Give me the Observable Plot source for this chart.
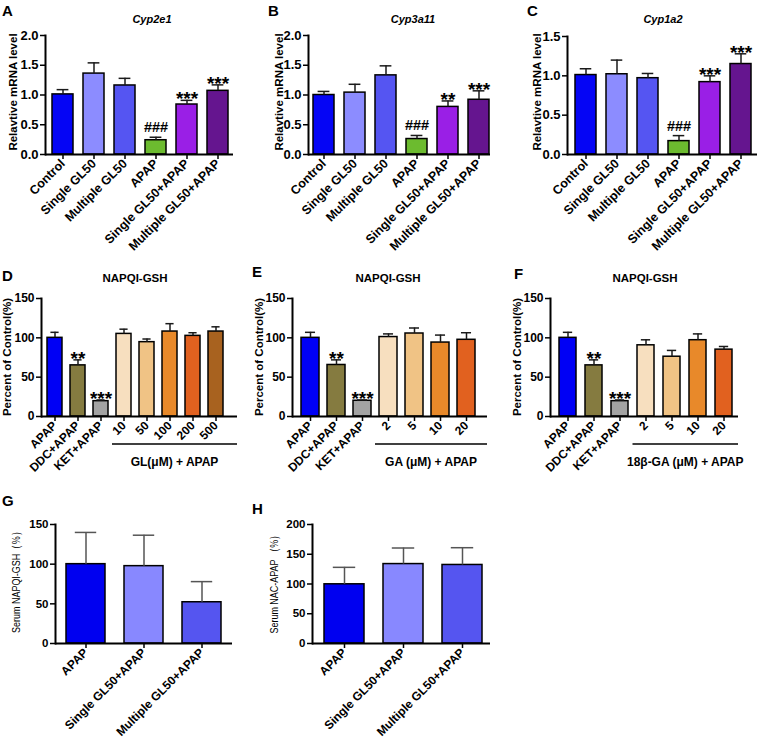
<!DOCTYPE html>
<html><head><meta charset="utf-8">
<script src="https://cdn.jsdelivr.net/npm/d3@7"></script>
<script src="https://cdn.jsdelivr.net/npm/@observablehq/plot@0.6"></script>
<style>
body{margin:0;background:#fff;}
#fig{position:relative;width:757px;height:738px;font-family:"Liberation Sans",Arial,sans-serif;color:#000;overflow:hidden;}
.panel{position:absolute;}
.panel svg{max-width:none;overflow:visible;}
.letter{position:absolute;font-weight:bold;font-size:15px;line-height:15px;}
.title{position:absolute;font-weight:bold;font-size:11.5px;line-height:1;transform:translate(-50%,-50%);white-space:nowrap;}
.ylab{position:absolute;font-size:11.5px;line-height:1;white-space:nowrap;}
</style></head><body><div id="fig"></div>
<script>
// ---------- data ----------
const cypGroups = ["Control","Single GL50","Multiple GL50","APAP","Single GL50+APAP","Multiple GL50+APAP"];
const cypColors = ["#0505f5","#8c8cff","#5555f2","#6cbb2f","#9a1fe6","#65158f"];
const cyp2e1Mean = [1.01,1.36,1.16,0.24,0.84,1.07];
const cyp2e1Sd   = [0.08,0.18,0.12,0.05,0.07,0.10];
const cyp2e1Sig  = ["","","","###","***","***"];
const cyp3a11Mean = [1.00,1.04,1.33,0.26,0.80,0.92];
const cyp3a11Sd   = [0.06,0.14,0.16,0.06,0.10,0.15];
const cyp3a11Sig  = ["","","","###","**","***"];
const cyp1a2Mean = [1.01,1.02,0.97,0.17,0.92,1.15];
const cyp1a2Sd   = [0.08,0.18,0.06,0.07,0.08,0.13];
const cyp1a2Sig  = ["","","","###","***","***"];
const cypTicks2 = [0,0.5,1,1.5,2];
const cypTicks15 = [0,0.5,1,1.5];

const glGroups = ["APAP","DDC+APAP","KET+APAP","10","50","100","200","500"];
const glColors = ["#0000f5","#857b40","#a3a3a3","#f7dfbf","#f0c385","#e8892a","#e1611f","#a8621f"];
const glMean = [100,65,19.5,105,94.5,108,102.5,108];
const glSd   = [7,7,1.5,6,4,10,4,6];
const inhSig = ["","**","***","","","","",""];

const gaGroups = ["APAP","DDC+APAP","KET+APAP","2","5","10","20"];
const gaColors = ["#0000f5","#857b40","#a3a3a3","#f7dfbf","#f0c385","#e8892a","#e1611f"];
const gaMean = [100,65.5,20,101,105.5,94,97.5];
const gaSd   = [7,6.5,1,4,7,9.5,9];

const bgaGroups = ["APAP","DDC+APAP","KET+APAP","2","5","10","20"];
const bgaMean = [100,65,19.5,90.5,76,97,85];
const bgaSd   = [7,7,1.5,7,8,8,4];
const pctTicks = [0,50,100,150];

const serumGroups = ["APAP","Single GL50+APAP","Multiple GL50+APAP"];
const serumColors = ["#0000f0","#8888ff","#5555f0"];
const napqiMean = [100,97.5,52];
const napqiSd   = [40,39,26];
const nacMean = [99.5,133.5,132];
const nacSd   = [28.5,27,29];
const nacTicks = [0,50,100,150,200];

// ---------- helpers ----------
const fig = document.getElementById("fig");
function addText(cls, text, css) {
  const d = document.createElement("div");
  d.className = cls; d.textContent = text;
  Object.assign(d.style, css);
  fig.appendChild(d);
  return d;
}

function drawPanel(c) {
  const rows = c.groups.map((g, i) => ({g, mean: c.means[i], top: c.means[i] + c.sds[i], sig: (c.sig || [])[i] || "", color: c.colors[i]}));
  const innerW = c.width - c.ml - c.mr - c.il - c.ir;
  const step = innerW / (c.groups.length - c.pi);
  const bw = step * (1 - c.pi);
  const cap = bw * 0.22;
  const errColor = c.errColor || "#1a1a1a";
  const svg = Plot.plot({
    width: c.width, height: c.height,
    marginLeft: c.ml, marginRight: c.mr, marginTop: c.mt, marginBottom: c.mb,
    style: {fontFamily: "Liberation Sans, Arial, sans-serif", color: "#000", background: "none", overflow: "visible"},
    x: {domain: c.groups, paddingInner: c.pi, paddingOuter: 0, insetLeft: c.il, insetRight: c.ir, label: null},
    y: {domain: c.ydomain, label: null},
    color: {type: "identity"},
    marks: [
      Plot.barY(rows, {x: "g", y: "mean", fill: "color", stroke: "#000", strokeWidth: 1.5}),
      Plot.ruleX(rows, {x: "g", y1: "mean", y2: "top", stroke: errColor, strokeWidth: 1.5}),
      Plot.tickY(rows, {x: "g", y: "top", stroke: errColor, strokeWidth: 1.5, insetLeft: cap, insetRight: cap}),
      Plot.text(rows.filter(d => d.sig.startsWith("#")), {x: "g", y: "top", text: "sig", lineAnchor: "bottom", dy: -5, fontSize: 14.5, fontWeight: "bold"}),
      Plot.text(rows.filter(d => d.sig.startsWith("*")), {x: "g", y: "top", text: "sig", lineAnchor: "bottom", dy: 5, fontSize: 19, fontWeight: "bold"}),
      Plot.axisY({ticks: c.yticks, tickFormat: c.yfmt, tickSize: 5, tickPadding: 2, strokeWidth: 1.5, fontSize: c.yfs, fontWeight: "bold", label: null}),
      Plot.axisX({tickRotate: -45, tickSize: 5, tickPadding: 2, strokeWidth: 1.5, fontSize: c.xfs, fontWeight: "bold", label: null}),
      Plot.frame({anchor: "left", strokeWidth: 2}),
      Plot.ruleY([c.ydomain[0]], {stroke: "#000", strokeWidth: 2})
    ]
  });
  if (c.bracket) {
    const xs = svg.scale("x");
    const i0 = c.groups.indexOf(c.bracket.from);
    const stepPx = xs.apply(c.groups[i0 + 1]) - xs.apply(c.groups[i0]);
    const bwPx = xs.bandwidth;
    const left = xs.apply(c.groups[i0]) - (stepPx - bwPx) / 2;
    const right = c.width - c.mr;
    const y0 = svg.scale("y").apply(c.ydomain[0]);
    const g = d3.select(svg).append("g");
    g.append("line").attr("x1", left).attr("x2", right).attr("y1", y0 + 28).attr("y2", y0 + 28)
      .attr("stroke", "#000").attr("stroke-width", 1.6);
    g.append("text").attr("x", (left + right) / 2).attr("y", y0 + 50)
      .attr("text-anchor", "middle").attr("font-size", 12).attr("font-weight", "bold")
      .attr("font-family", "Liberation Sans, Arial, sans-serif").text(c.bracket.label);
  }
  const wrap = document.createElement("div");
  wrap.className = "panel";
  Object.assign(wrap.style, {left: c.left + "px", top: c.top + "px", width: c.width + "px", height: c.height + "px"});
  wrap.appendChild(svg);
  fig.appendChild(wrap);

  addText("letter", c.letter, {left: c.letterPos[0] + "px", top: (c.letterPos[1] - 2) + "px"});
  if (c.title) addText("title", c.title, {left: c.titlePos[0] + "px", top: c.titlePos[1] + "px", fontStyle: c.italic ? "italic" : "normal", fontSize: (c.titleFs || 11.5) + "px"});
  const narrow = c.ylabBold === false;
  addText("ylab", c.ylabel, {left: c.ylabPos[0] + "px", top: c.ylabPos[1] + "px",
    fontWeight: narrow ? "normal" : "bold", fontSize: (narrow ? 11.5 : 11.5) + "px",
    transform: "translate(-50%,-50%) rotate(-90deg)" + (narrow ? " scaleX(0.78)" : "")});
}

const f1 = d3.format(".1f");
const f0 = d3.format("d");

drawPanel({letter: "A", letterPos: [2, 5], title: "Cyp2e1", italic: true, titleFs: 11, titlePos: [152, 19], ylabel: "Relavtive mRNA level", ylabPos: [14, 92],
  left: 0, top: 0, width: 240, height: 240, ml: 45, mr: 7, mt: 35, mb: 86, il: 6, ir: 5, pi: 0.327, yfs: 13, xfs: 12.5,
  groups: cypGroups, colors: cypColors, means: cyp2e1Mean, sds: cyp2e1Sd, sig: cyp2e1Sig, ydomain: [0, 2], yticks: cypTicks2, yfmt: f1});
drawPanel({letter: "B", letterPos: [268, 5], title: "Cyp3a11", italic: true, titleFs: 11, titlePos: [413, 19], ylabel: "Relavtive mRNA level", ylabPos: [280, 92],
  left: 250, top: 0, width: 250, height: 240, ml: 58, mr: 10, mt: 35, mb: 86, il: 5, ir: 1, pi: 0.324, yfs: 13, xfs: 12.5,
  groups: cypGroups, colors: cypColors, means: cyp3a11Mean, sds: cyp3a11Sd, sig: cyp3a11Sig, ydomain: [0, 2], yticks: cypTicks2, yfmt: f1});
drawPanel({letter: "C", letterPos: [527, 5], title: "Cyp1a2", italic: true, titleFs: 11, titlePos: [663, 19], ylabel: "Relavtive mRNA level", ylabPos: [538, 92],
  left: 500, top: 0, width: 257, height: 240, ml: 67, mr: 0, mt: 36, mb: 86, il: 7, ir: 5, pi: 0.313, yfs: 13, xfs: 12.5,
  groups: cypGroups, colors: cypColors, means: cyp1a2Mean, sds: cyp1a2Sd, sig: cyp1a2Sig, ydomain: [0, 1.5], yticks: cypTicks15, yfmt: f1});

drawPanel({letter: "D", letterPos: [2, 270], title: "NAPQI-GSH", titlePos: [135, 279], ylabel: "Percent of Control(%)", ylabPos: [8, 357],
  left: 0, top: 250, width: 240, height: 230, ml: 41, mr: 3, mt: 48, mb: 64, il: 5, ir: 13, pi: 0.333, yfs: 12, xfs: 12,
  groups: glGroups, colors: glColors, means: glMean, sds: glSd, sig: inhSig, ydomain: [0, 150], yticks: pctTicks, yfmt: f0,
  bracket: {from: "10", label: "GL(μM) + APAP"}});
drawPanel({letter: "E", letterPos: [252, 266], title: "NAPQI-GSH", titlePos: [388, 279], ylabel: "Percent of Control(%)", ylabPos: [260, 357],
  left: 250, top: 250, width: 240, height: 230, ml: 42, mr: 3, mt: 48, mb: 64, il: 7, ir: 10, pi: 0.325, yfs: 12, xfs: 12,
  groups: gaGroups, colors: gaColors, means: gaMean, sds: gaSd, sig: inhSig, ydomain: [0, 150], yticks: pctTicks, yfmt: f0,
  bracket: {from: "2", label: "GA (μM) + APAP"}});
drawPanel({letter: "F", letterPos: [514, 268], title: "NAPQI-GSH", titlePos: [645, 279], ylabel: "Percent of Control(%)", ylabPos: [518, 357],
  left: 500, top: 250, width: 257, height: 230, ml: 50, mr: 19, mt: 48, mb: 64, il: 7, ir: 4, pi: 0.342, yfs: 12, xfs: 12,
  groups: bgaGroups, colors: gaColors, means: bgaMean, sds: bgaSd, sig: inhSig, ydomain: [0, 150], yticks: pctTicks, yfmt: f0,
  bracket: {from: "2", label: "18β-GA (μM) + APAP"}});

drawPanel({letter: "G", letterPos: [2, 495], ylabel: "Serum NAPQI-GSH（%）", ylabBold: false, ylabPos: [17, 580],
  left: 0, top: 480, width: 245, height: 258, ml: 55, mr: 13, mt: 44, mb: 95, il: 10, ir: 9, pi: 0.322, errColor: "#555", yfs: 11.5, xfs: 12,
  groups: serumGroups, colors: serumColors, means: napqiMean, sds: napqiSd, ydomain: [0, 150], yticks: pctTicks, yfmt: f0});
drawPanel({letter: "H", letterPos: [252, 503], ylabel: "Serum NAC-APAP （%）", ylabBold: false, ylabPos: [275, 582],
  left: 250, top: 480, width: 250, height: 258, ml: 62, mr: 10, mt: 44, mb: 95, il: 11, ir: 8, pi: 0.328, errColor: "#555", yfs: 11.5, xfs: 12,
  groups: serumGroups, colors: serumColors, means: nacMean, sds: nacSd, ydomain: [0, 200], yticks: nacTicks, yfmt: f0});
</script>
</body></html>
